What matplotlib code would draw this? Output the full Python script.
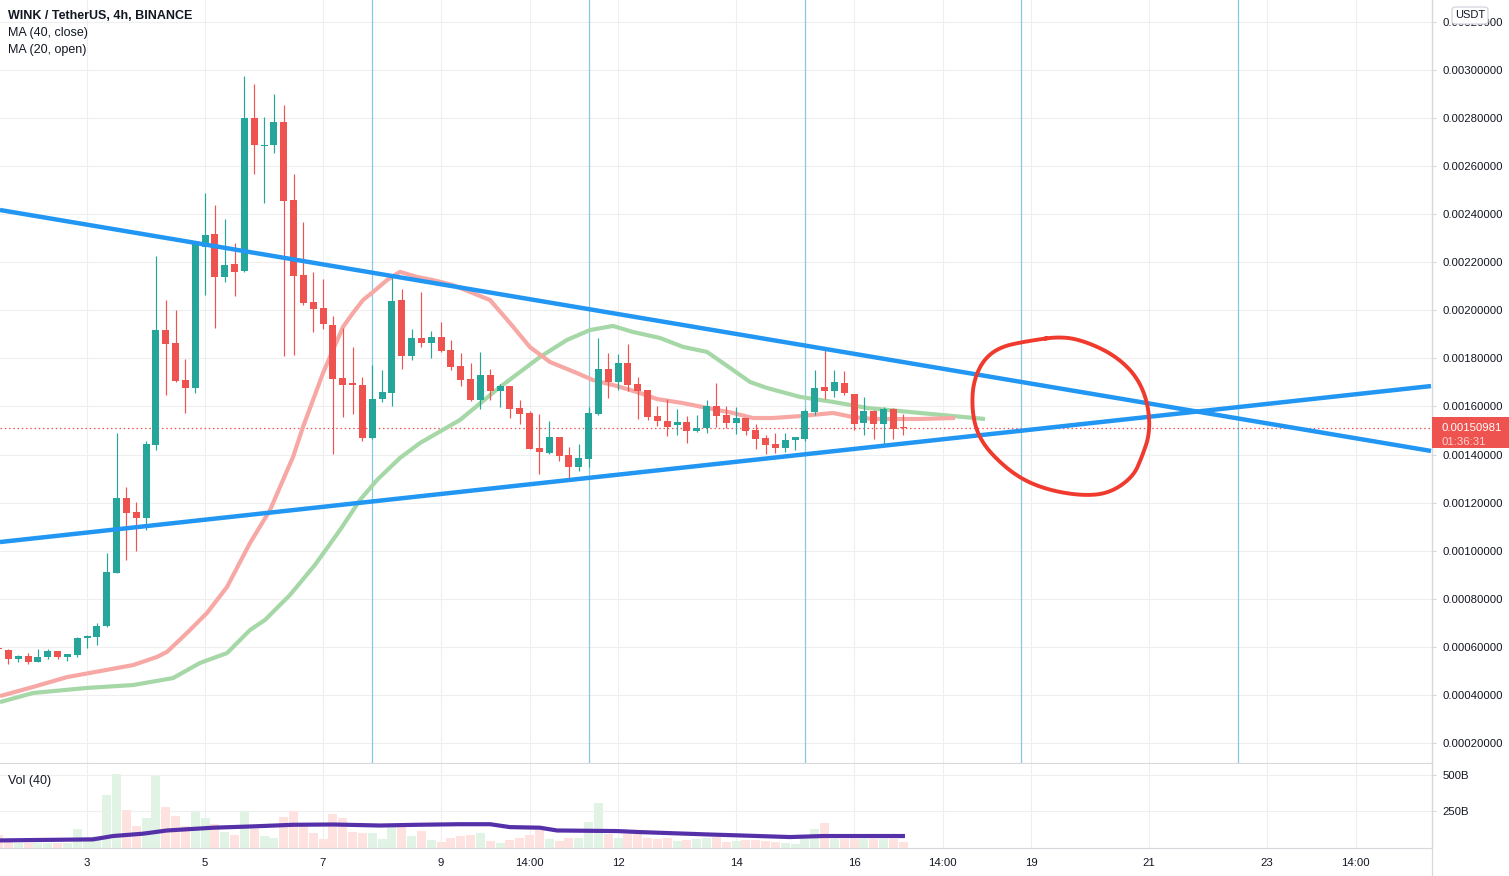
import numpy as np
import matplotlib
matplotlib.use("Agg")
import matplotlib.pyplot as plt
from matplotlib.patches import FancyBboxPatch, Rectangle
from matplotlib.lines import Line2D
from matplotlib.ticker import FuncFormatter

plt.rcParams['font.family'] = ['Liberation Sans', 'DejaVu Sans']

# ---------------- data ----------------
start_day = 1.5          # first (partial) 4h candle: day 1, 12:00
candle_step = 1 / 6      # 4 hours in days

opens = [0.000595, 0.000587, 0.000551, 0.000561, 0.000537, 0.000556, 0.000582, 0.000558, 0.000565, 0.000635,
         0.000642, 0.000687, 0.000908, 0.001219, 0.001161, 0.001137, 0.00144, 0.001918, 0.001864, 0.00171,
         0.001678, 0.002265, 0.002318, 0.00214, 0.002193, 0.002164, 0.0028, 0.002685, 0.00269, 0.002784,
         0.002459, 0.002147, 0.002035, 0.00201, 0.001939, 0.001719, 0.001698, 0.00169, 0.00147, 0.001631,
         0.001657, 0.002043, 0.001811, 0.001885, 0.001865, 0.001889, 0.001835, 0.001768, 0.001714, 0.001628,
         0.001731, 0.001666, 0.001685, 0.001594, 0.001574, 0.001429, 0.001407, 0.001474, 0.0014, 0.00135,
         0.001383, 0.001569, 0.001756, 0.0017, 0.001781, 0.001694, 0.001669, 0.00156, 0.00154, 0.001522,
         0.001535, 0.0015, 0.00151, 0.0016, 0.001565, 0.001533, 0.001553, 0.001502, 0.001469, 0.001444,
         0.001429, 0.001462, 0.001465, 0.001578, 0.001681, 0.001666, 0.001698, 0.001652, 0.001533, 0.001581,
         0.001528, 0.00159, 0.001512]
highs = [0.000598, 0.00059, 0.000565, 0.000573, 0.000591, 0.000591, 0.000582, 0.000569, 0.00064, 0.000651,
         0.000699, 0.00099, 0.00149, 0.001264, 0.001203, 0.001455, 0.002226, 0.002044, 0.002003, 0.001798,
         0.00228, 0.002488, 0.002438, 0.00238, 0.00228, 0.002975, 0.002942, 0.002804, 0.0029, 0.002854,
         0.002567, 0.002367, 0.00216, 0.00213, 0.001976, 0.001925, 0.001849, 0.001723, 0.001774, 0.001753,
         0.002143, 0.002089, 0.001922, 0.002076, 0.001914, 0.001952, 0.001877, 0.001822, 0.001781, 0.001827,
         0.001756, 0.001694, 0.001685, 0.001628, 0.001581, 0.00157, 0.00154, 0.001474, 0.001431, 0.001445,
         0.001598, 0.001885, 0.001822, 0.001818, 0.00186, 0.001723, 0.001669, 0.001602, 0.001631, 0.001591,
         0.00156, 0.001565, 0.001627, 0.001698, 0.0016, 0.001598, 0.001553, 0.001527, 0.001481, 0.001491,
         0.001488, 0.001474, 0.00159, 0.001752, 0.001839, 0.001752, 0.001748, 0.001652, 0.00164, 0.001585,
         0.001598, 0.001594, 0.001569]
lows = [0.000585, 0.000528, 0.000538, 0.000529, 0.000537, 0.000551, 0.000551, 0.000543, 0.000559, 0.000595,
        0.000608, 0.000683, 0.000907, 0.000962, 0.000999, 0.001087, 0.001419, 0.001648, 0.0017, 0.001574,
        0.001657, 0.002065, 0.001928, 0.002119, 0.002061, 0.00216, 0.002569, 0.002448, 0.002656, 0.001811,
        0.001815, 0.002022, 0.001911, 0.001921, 0.001401, 0.001557, 0.001567, 0.001458, 0.001465, 0.00162,
        0.001603, 0.001756, 0.001795, 0.001849, 0.001803, 0.001828, 0.001752, 0.001685, 0.001624, 0.001591,
        0.001628, 0.001599, 0.001553, 0.001528, 0.001424, 0.00132, 0.001403, 0.001373, 0.001298, 0.001332,
        0.00135, 0.001566, 0.001637, 0.001669, 0.001666, 0.001549, 0.001545, 0.00152, 0.001478, 0.001483,
        0.00145, 0.001494, 0.001491, 0.001516, 0.00151, 0.001487, 0.00148, 0.001424, 0.001404, 0.001408,
        0.001412, 0.001419, 0.001456, 0.001565, 0.001632, 0.00164, 0.001649, 0.001504, 0.001483, 0.001466,
        0.001445, 0.001466, 0.001483]
closes = [0.00059, 0.000551, 0.000562, 0.000538, 0.000557, 0.000582, 0.000558, 0.000569, 0.000636, 0.000647,
          0.000687, 0.000911, 0.001219, 0.001158, 0.001137, 0.001444, 0.001918, 0.00186, 0.001706, 0.001678,
          0.002277, 0.002314, 0.00214, 0.002189, 0.002161, 0.0028, 0.00269, 0.002689, 0.002784, 0.002456,
          0.002144, 0.002032, 0.002007, 0.001944, 0.001716, 0.00169, 0.00169, 0.00147, 0.001631, 0.00166,
          0.002039, 0.001811, 0.001885, 0.001865, 0.001889, 0.001831, 0.001766, 0.001711, 0.001627, 0.001731,
          0.001666, 0.001685, 0.001591, 0.00157, 0.001424, 0.001411, 0.001474, 0.001395, 0.00135, 0.001386,
          0.001573, 0.001756, 0.0017, 0.001781, 0.001691, 0.001666, 0.001558, 0.001541, 0.001516, 0.001535,
          0.0015, 0.00151, 0.0016, 0.001562, 0.001533, 0.001553, 0.0015, 0.001465, 0.001441, 0.001429,
          0.00146, 0.001472, 0.001581, 0.001677, 0.001666, 0.001702, 0.001655, 0.001528, 0.001581, 0.001528,
          0.00159, 0.001508, 0.00150981]
volumes_b = [86, 45, 36, 36, 36, 36, 36, 36, 127, 75,
             82, 366, 509, 257, 148, 205, 495, 284, 216, 148,
             250, 205, 166, 109, 86, 250, 132, 82, 68, 209,
             250, 166, 100, 59, 236, 205, 109, 100, 100, 59,
             155, 159, 82, 114, 52, 41, 68, 82, 89, 100,
             45, 36, 52, 68, 86, 120, 59, 45, 66, 66,
             175, 311, 98, 66, 93, 93, 66, 59, 66, 45,
             52, 59, 66, 75, 39, 45, 52, 52, 45, 39,
             32, 25, 91, 127, 168, 59, 59, 59, 59, 59,
             59, 59, 39]

ma20_days = [1.525, 2.085, 2.661, 3.220, 3.780, 4.186, 4.356, 4.695, 5.034, 5.373,
             5.763, 6.102, 6.322, 6.492, 6.661, 6.831, 7.000, 7.169, 7.339, 7.508,
             7.678, 7.847, 8.085, 8.305, 8.593, 8.864, 9.203, 9.831, 10.169, 10.508,
             10.847, 11.305, 11.576, 11.983, 12.373, 12.661, 13.102, 13.508, 13.949, 14.288,
             14.627, 15.085, 15.644, 15.983, 16.322, 17.119, 17.712]
ma20_open = [0.000395, 0.000433, 0.000474, 0.000499, 0.000524, 0.000558, 0.000579, 0.000658, 0.000741, 0.000849,
             0.001032, 0.001169, 0.001294, 0.00139, 0.001515, 0.001627, 0.001739, 0.001835, 0.001931, 0.001989,
             0.002043, 0.002076, 0.002126, 0.00216, 0.002139, 0.002126, 0.002105, 0.002043, 0.001947, 0.001847,
             0.001785, 0.001739, 0.00171, 0.001685, 0.001656, 0.001631, 0.001614, 0.001594, 0.001573, 0.001552,
             0.001552, 0.00156, 0.001573, 0.001556, 0.001548, 0.001548, 0.001552]

ma40_days = [1.525, 2.085, 3.000, 3.780, 4.458, 4.915, 5.373, 5.763, 6.017, 6.441,
             6.864, 7.288, 7.627, 7.915, 8.305, 8.644, 9.322, 10.000, 10.678, 11.136,
             11.525, 11.915, 12.254, 12.712, 13.102, 13.508, 13.949, 14.237, 14.525, 15.085,
             15.644, 16.220, 17.119, 18.220]
ma40_close = [0.00037, 0.000408, 0.000429, 0.000441, 0.00047, 0.000533, 0.000574, 0.00067, 0.000712, 0.000816,
              0.000941, 0.001086, 0.001211, 0.001294, 0.001386, 0.001448, 0.001544, 0.001681, 0.001806, 0.001877,
              0.001918, 0.001935, 0.00191, 0.001885, 0.001848, 0.001827, 0.001752, 0.001702, 0.001677, 0.00164,
              0.001619, 0.001594, 0.001573, 0.001548]

volma_days = [1.525, 3.102, 3.441, 3.949, 4.356, 5.136, 5.814, 6.492, 7.169, 7.966,
              8.593, 9.322, 9.831, 10.169, 10.678, 10.966, 11.983, 12.373, 13.508, 14.068,
              14.915, 15.475, 16.864]
volma_b = [52, 59, 82, 98, 120, 139, 148, 159, 161, 154,
           159, 163, 163, 143, 139, 120, 116, 109, 93, 86,
           75, 82, 82]

upper_line_days = [1.525, 25.78]
upper_line_prices = [0.0024175, 0.001415]
lower_line_days = [1.525, 25.78]
lower_line_prices = [0.001036, 0.001685]

cycle_line_days = [7.833, 11.5, 15.167, 18.833, 22.5]

circle_days = [19.542, 18.932, 18.475, 18.186, 18.017, 18.000, 18.085, 18.305, 18.763, 19.271,
               19.881, 20.339, 20.729, 20.881, 21.017, 20.983, 20.797, 20.458, 20.000]
circle_prices = [0.001893, 0.001872, 0.001848, 0.001793, 0.001698, 0.001585, 0.00149, 0.001406, 0.001307, 0.001253,
                 0.001228, 0.00124, 0.001307, 0.00139, 0.00149, 0.001615, 0.001723, 0.001806, 0.001864]

last_price = 0.00150981
price_ticks = [0.0002 * i for i in range(1, 17)]
vol_ticks = [250, 500]
x_tick_pos = [3, 5, 7, 9, 10.5, 12, 14, 16, 17.5, 19, 21, 23, 24.5]
x_tick_lab = ['3', '5', '7', '9', '14:00', '12', '14', '16', '14:00', '19', '21', '23', '14:00']

# ---------------- styling ----------------
W, H = 1509, 876
GREEN = '#26a69a'
RED = '#ef5350'
GRID = '#efefef'
AXISC = '#d6d8dd'
TXT = '#131722'

fig = plt.figure(figsize=(W / 100, H / 100), dpi=100)
ax = fig.add_axes([0, 1 - 763 / H, 1431.5 / W, 763 / H])
axv = fig.add_axes([0, 1 - 848 / H, 1431.5 / W, 84 / H])

xl = (1.5254, 25.788)
for a in (ax, axv):
    a.set_xlim(*xl)
    a.set_facecolor('white')
    a.set_xticks(x_tick_pos)
    a.grid(True, color=GRID, lw=0.8, zorder=0)
    a.set_axisbelow(True)
    for s in ('top', 'left'):
        a.spines[s].set_visible(False)
    a.spines['right'].set_color(AXISC)
    a.spines['bottom'].set_color(AXISC)

ax.set_ylim(0.0001167, 0.0032912)
axv.set_ylim(0, 575.3)

n = len(opens)
t = start_day + np.arange(n) * candle_step
o = np.array(opens); c = np.array(closes); hi = np.array(highs); lo = np.array(lows)
up = c >= o
cols = np.where(up, GREEN, RED)
body_bot = np.minimum(o, c)
body_h = np.maximum(np.abs(c - o), 4.5e-6)

# indicator lines
ax.plot(ma40_days, ma40_close, color='#a5d7a7', lw=3.0, solid_capstyle='butt', zorder=2)
ax.plot(ma20_days, ma20_open, color='#f7a8a4', lw=3.0, solid_capstyle='butt', zorder=2.1)

# cycle lines
for d in cycle_line_days:
    ax.axvline(d, color='#86c8df', lw=0.9, zorder=1)

# last price dotted line
ax.axhline(last_price, color=RED, lw=0.9, ls=(0, (1.2, 2.2)), zorder=1.5)

# candles
ax.vlines(t, lo, hi, colors=cols, lw=0.85, zorder=3)
ax.bar(t, body_h, bottom=body_bot, width=0.1186, color=cols, linewidth=0, zorder=3.5)

# trend lines
ax.plot(upper_line_days, upper_line_prices, color='#2196f3', lw=3.2, zorder=5, solid_capstyle='butt')
ax.plot(lower_line_days, lower_line_prices, color='#2196f3', lw=3.2, zorder=5, solid_capstyle='butt')

# hand drawn circle (smoothed closed path)
pts = np.column_stack([circle_days, circle_prices])
for _ in range(4):
    nxt = np.roll(pts, -1, axis=0)
    q = 0.75 * pts + 0.25 * nxt
    r = 0.25 * pts + 0.75 * nxt
    pts = np.empty((2 * len(q), 2))
    pts[0::2] = q
    pts[1::2] = r
pts = np.vstack([pts, pts[:1]])
ax.plot(pts[:, 0], pts[:, 1], color='#f03a2e', lw=2.8, zorder=6, solid_joinstyle='round')

# axes ticks
ax.yaxis.tick_right()
ax.set_yticks(price_ticks)
ax.yaxis.set_major_formatter(FuncFormatter(lambda v, p: f"{v:.8f}"))
ax.tick_params(axis='y', direction='out', length=3, width=0.8, color=AXISC,
               labelsize=8.2, labelcolor=TXT, pad=5)
ax.tick_params(axis='x', length=0, labelbottom=False)

# volume pane
vcols = np.where(up, '#e1f3e4', '#fde2e0')
axv.bar(t, volumes_b, width=0.1525, color=vcols, linewidth=0, zorder=2)
axv.plot(volma_days, volma_b, color='#5530a8', lw=3.0, zorder=3, solid_capstyle='butt')
axv.yaxis.tick_right()
axv.set_yticks(vol_ticks)
axv.yaxis.set_major_formatter(FuncFormatter(lambda v, p: f"{int(v)}B"))
axv.tick_params(axis='y', direction='out', length=3, width=0.8, color=AXISC,
                labelsize=8.2, labelcolor=TXT, pad=5)
axv.set_xticklabels(x_tick_lab)
axv.tick_params(axis='x', length=0, labelsize=8.2, labelcolor=TXT, pad=7)

# right axis line down to the bottom
fig.add_artist(Line2D([1431.5 / W, 1431.5 / W], [0, 1], transform=fig.transFigure,
                      color=AXISC, lw=0.9, zorder=8))

# legend texts
fig.text(8 / W, 1 - 16 / H, 'WINK / TetherUS, 4h, BINANCE', fontsize=9, fontweight='bold',
         color=TXT, va='center', ha='left')
fig.text(8 / W, 1 - 33 / H, 'MA (40, close)', fontsize=9, color=TXT, va='center', ha='left')
fig.text(8 / W, 1 - 50 / H, 'MA (20, open)', fontsize=9, color=TXT, va='center', ha='left')
fig.text(8 / W, 1 - 781 / H, 'Vol (40)', fontsize=9, color=TXT, va='center', ha='left')

# USDT badge
badge = FancyBboxPatch((1452 / W, 1 - 24 / H), 36 / W, 17 / H, boxstyle='round,pad=0,rounding_size=0.003',
                       transform=fig.transFigure, facecolor='white', edgecolor='#d1d4dc', lw=0.9, zorder=9)
fig.add_artist(badge)
fig.text(1470 / W, 1 - 15.5 / H, 'USDT', fontsize=8, color=TXT, ha='center', va='center', zorder=10)

# last price label
fig.add_artist(Rectangle((1432 / W, 1 - 448 / H), 77 / W, 31 / H, transform=fig.transFigure,
                         facecolor=RED, edgecolor='none', zorder=9))
fig.text(1441 / W, 1 - 428.5 / H, f"{last_price:.8f}", fontsize=8.2, color='white', ha='left',
         va='center', zorder=10)
fig.text(1441 / W, 1 - 442 / H, '01:36:31', fontsize=8.2, color='#fbd0cf', ha='left', va='center', zorder=10)

fig.savefig('out.png', dpi=100, facecolor='white')
